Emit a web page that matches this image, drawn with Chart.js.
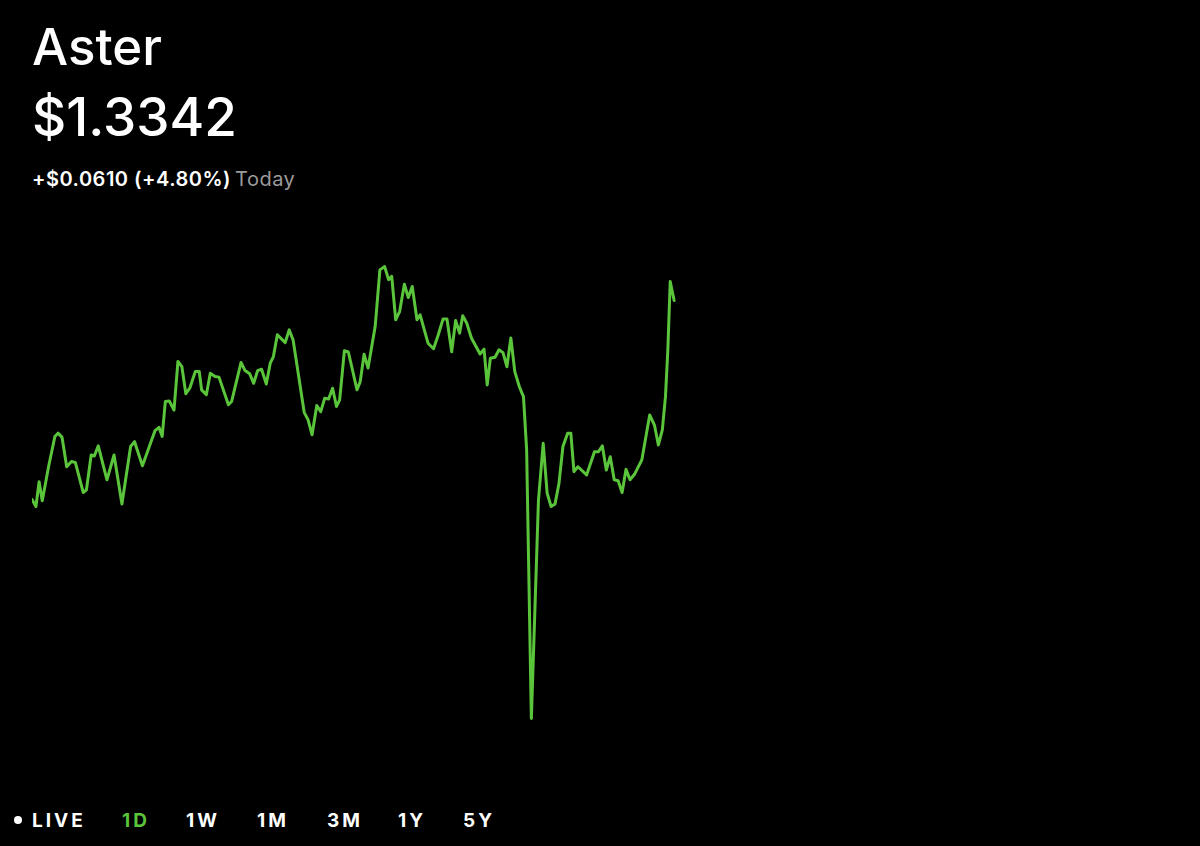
<!DOCTYPE html>
<html>
<head>
<meta charset="utf-8">
<title>Aster</title>
<script src="https://cdn.jsdelivr.net/npm/chart.js@4"></script>
<style>
  html, body { margin: 0; padding: 0; background: #000; }
  body { width: 1200px; height: 846px; position: relative; overflow: hidden; font-family: Inter, "Liberation Sans", Arial, sans-serif; color: #fff; }
  .title  { position: absolute; left: 32px; top: 21px; font-size: 51px; line-height: 51px; font-weight: 500; }
  .price  { position: absolute; left: 32px; top: 91px; font-size: 53px; line-height: 53px; font-weight: 500; }
  .change { position: absolute; left: 32px; top: 169px; font-size: 20px; line-height: 20px; font-weight: 600; letter-spacing: 0.5px; }
  .change .when { color: #9b9b9b; font-weight: 400; margin-left: 4px; }
  .chart-wrap { position: absolute; left: 32px; top: 249px; width: 1136px; height: 489px; }
  .range { position: absolute; top: 811px; font-size: 19px; line-height: 19px; font-weight: 700; letter-spacing: 3px; }
  .range.active { color: #5ac53b; }
  .dot { position: absolute; left: 14px; top: 816px; width: 8px; height: 8px; border-radius: 50%; background: #fff; }
</style>
</head>
<body>

<div class="title">Aster</div>
<div class="price">$1.3342</div>
<div class="change">+$0.0610 (+4.80%)<span class="when">Today</span></div>

<div class="chart-wrap"><canvas id="priceChart" width="1136" height="489"></canvas></div>

<span class="dot"></span>
<div class="range" style="left:32px">LIVE</div>
<div class="range active" style="left:122px">1D</div>
<div class="range" style="left:186px">1W</div>
<div class="range" style="left:257px">1M</div>
<div class="range" style="left:327px">3M</div>
<div class="range" style="left:398px">1Y</div>
<div class="range" style="left:463px">5Y</div>

<script>
/* ---- Datos (minutos desde el inicio del día, precio en USD) ---- */
const minutes = [
  0, 5, 9, 13, 21, 29, 33, 38, 44, 50, 55, 65, 69, 75, 79, 84, 95, 104, 114, 125,
  130, 140, 156, 161, 165, 169, 174, 180, 185, 190, 195, 200, 207, 212, 215, 221, 226, 232, 237, 249,
  253, 265, 270, 276, 281, 286, 291, 297, 302, 306, 311, 321, 326, 331, 345, 350, 355, 361, 366, 371,
  376, 381, 386, 390, 396, 401, 412, 416, 421, 426, 435, 441, 447, 452, 456, 461, 466, 472, 477, 482,
  488, 492, 502, 509, 515, 521, 526, 532, 537, 542, 546, 551, 557, 568, 573, 577, 581, 587, 592, 597,
  602, 607, 612, 618, 623, 627, 633, 642, 648, 653, 658, 663, 668, 673, 679, 683, 687, 692, 703, 713,
  718, 723, 728, 733, 738, 743, 748, 753, 758, 764, 773, 783, 789, 794, 799, 803, 806, 809, 814
];

const prices = [
  1.2732, 1.2710, 1.2786, 1.2728, 1.2832, 1.2925, 1.2935, 1.2923, 1.2832, 1.2848,
  1.2845, 1.2753, 1.2761, 1.2868, 1.2865, 1.2896, 1.2792, 1.2868, 1.2718, 1.2894,
  1.2909, 1.2835, 1.2943, 1.2953, 1.2925, 1.3032, 1.3034, 1.3006, 1.3155, 1.3139,
  1.3056, 1.3073, 1.3124, 1.3124, 1.3068, 1.3053, 1.3119, 1.3109, 1.3107, 1.3022,
  1.3032, 1.3152, 1.3127, 1.3117, 1.3088, 1.3127, 1.3131, 1.3086, 1.3150, 1.3170,
  1.3237, 1.3213, 1.3252, 1.3221, 1.2999, 1.2976, 1.2930, 1.3020, 1.3001, 1.3042,
  1.3040, 1.3073, 1.3017, 1.3037, 1.3188, 1.3184, 1.3068, 1.3093, 1.3177, 1.3135,
  1.3262, 1.3436, 1.3446, 1.3406, 1.3416, 1.3283, 1.3308, 1.3392, 1.3351, 1.3385,
  1.3283, 1.3298, 1.3211, 1.3194, 1.3237, 1.3285, 1.3285, 1.3185, 1.3281, 1.3242,
  1.3295, 1.3273, 1.3227, 1.3178, 1.3193, 1.3083, 1.3165, 1.3168, 1.3191, 1.3182,
  1.3139, 1.3227, 1.3124, 1.3076, 1.3047, 1.2884, 1.2060, 1.2730, 1.2904, 1.2751,
  1.2710, 1.2718, 1.2781, 1.2894, 1.2935, 1.2935, 1.2817, 1.2832, 1.2807, 1.2878,
  1.2878, 1.2896, 1.2822, 1.2863, 1.2792, 1.2789, 1.2753, 1.2824, 1.2792, 1.2810,
  1.2853, 1.2991, 1.2960, 1.2899, 1.2945, 1.3047, 1.3191, 1.3400, 1.3342
];

const DAY_MINUTES = 1440;
const PRICE_MIN = 1.20;
const PRICE_MAX = 1.35;

/* ---- Gráfica de precio ---- */
const ctx = document.getElementById('priceChart').getContext('2d');

new Chart(ctx, {
  type: 'line',
  data: {
    datasets: [{
      data: minutes.map((m, i) => ({ x: m, y: prices[i] })),
      borderColor: '#5ac53b',
      borderWidth: 3,
      pointRadius: 0,
      tension: 0,
      fill: false,
      borderJoinStyle: 'round',
      borderCapStyle: 'round',
    }],
  },
  options: {
    responsive: false,
    animation: false,
    clip: false,
    layout: { padding: 0 },
    plugins: {
      legend: { display: false },
      tooltip: { enabled: false },
    },
    scales: {
      x: { type: 'linear', min: 0, max: DAY_MINUTES, display: false },
      y: { min: PRICE_MIN, max: PRICE_MAX, display: false },
    },
  },
});
</script>
</body>
</html>
